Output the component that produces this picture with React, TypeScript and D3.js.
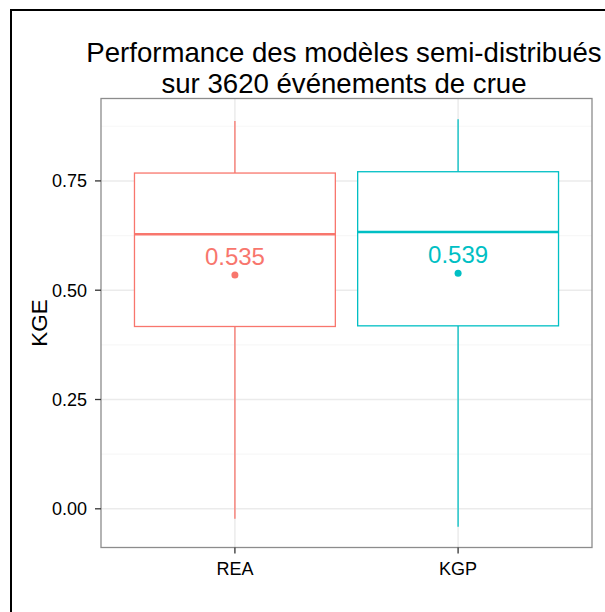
import React from "react";
import * as d3 from "d3";

const categories = ["REA", "KGP"];
const colors = ["#F8766D", "#00BFC4"];
const whiskerLow = [-0.023, -0.041];
const q1 = [0.417, 0.4185];
const median = [0.628, 0.633];
const q3 = [0.768, 0.771];
const whiskerHigh = [0.887, 0.891];
const means = [0.535, 0.539];
const yTicks = [0, 0.25, 0.5, 0.75];
const yMinor = [0.125, 0.375, 0.625, 0.875];
const titleLines = ["Performance des modèles semi-distribués", "sur 3620 événements de crue"];
const yTitle = "KGE";

const W = 605;
const H = 612;
const panel = { left: 101, right: 592, top: 98.5, bottom: 547.5 };
const FONT = "'Liberation Sans', Arial, Helvetica, sans-serif";

export default function App() {
  const y = d3.scaleLinear().domain([-0.0885, 0.9385]).range([panel.bottom, panel.top]);
  const x = d3.scaleLinear().domain([0.4, 2.6]).range([panel.left, panel.right]);
  const half = 0.45;
  const cx = (panel.left + panel.right) / 2;
  const cy = (panel.top + panel.bottom) / 2;
  const fmt = d3.format(".2f");

  return (
    <svg
      width={W}
      height={H}
      style={{ position: "absolute", left: 0, top: 0, background: "#fff" }}
      fontFamily={FONT}
    >
      <rect x={0} y={0} width={W} height={H} fill="#fff" />
      <rect x={11} y={10} width={640} height={640} fill="none" stroke="#000" strokeWidth={2} />

      {/* title */}
      {titleLines.map((t, i) => (
        <text key={i} x={cx - 2.5} y={62 + i * 30.5} textAnchor="middle" fontSize={27.6} fill="#000">
          {t}
        </text>
      ))}

      {/* panel background & grid */}
      <rect x={panel.left} y={panel.top} width={panel.right - panel.left} height={panel.bottom - panel.top} fill="#fff" />
      {yMinor.map((v) => (
        <line key={"m" + v} x1={panel.left} x2={panel.right} y1={y(v)} y2={y(v)} stroke="#f7f7f7" strokeWidth={1.2} />
      ))}
      {yTicks.map((v) => (
        <line key={"g" + v} x1={panel.left} x2={panel.right} y1={y(v)} y2={y(v)} stroke="#ebebeb" strokeWidth={1.5} />
      ))}
      {categories.map((c, i) => (
        <line key={"vx" + c} x1={x(i + 1)} x2={x(i + 1)} y1={panel.top} y2={panel.bottom} stroke="#ebebeb" strokeWidth={1.5} />
      ))}

      {/* boxplots */}
      {categories.map((c, i) => {
        const col = colors[i];
        const xc = x(i + 1);
        const x0 = x(i + 1 - half);
        const x1 = x(i + 1 + half);
        return (
          <g key={c}>
            <line x1={xc} x2={xc} y1={y(whiskerHigh[i])} y2={y(q3[i])} stroke={col} strokeWidth={1.3} />
            <line x1={xc} x2={xc} y1={y(q1[i])} y2={y(whiskerLow[i])} stroke={col} strokeWidth={1.3} />
            <rect x={x0} y={y(q3[i])} width={x1 - x0} height={y(q1[i]) - y(q3[i])} fill="#fff" stroke={col} strokeWidth={1.3} />
            <line x1={x0} x2={x1} y1={y(median[i])} y2={y(median[i])} stroke={col} strokeWidth={2.4} />
            <circle cx={xc} cy={y(means[i])} r={3.5} fill={col} />
            <text x={xc} y={y(means[i]) - 10} textAnchor="middle" fontSize={24} fill={col}>
              {means[i].toFixed(3)}
            </text>
          </g>
        );
      })}

      {/* panel border */}
      <rect x={panel.left} y={panel.top} width={panel.right - panel.left} height={panel.bottom - panel.top} fill="none" stroke="#8c8c8c" strokeWidth={1.3} />

      {/* y axis */}
      {yTicks.map((v) => (
        <g key={"yt" + v}>
          <line x1={panel.left - 6} x2={panel.left} y1={y(v)} y2={y(v)} stroke="#333" strokeWidth={1.3} />
          <text x={panel.left - 14} y={y(v)} dy="0.36em" textAnchor="end" fontSize={18} fill="#000">
            {fmt(v)}
          </text>
        </g>
      ))}
      <text
        transform={`translate(${39 + 8},${cy}) rotate(-90)`}
        textAnchor="middle"
        fontSize={22.5}
        fill="#000"
      >
        {yTitle}
      </text>

      {/* x axis */}
      {categories.map((c, i) => (
        <g key={"xt" + c}>
          <line x1={x(i + 1)} x2={x(i + 1)} y1={panel.bottom} y2={panel.bottom + 6} stroke="#333" strokeWidth={1.3} />
          <text x={x(i + 1)} y={574.5} textAnchor="middle" fontSize={18} fill="#000">
            {c}
          </text>
        </g>
      ))}
    </svg>
  );
}
